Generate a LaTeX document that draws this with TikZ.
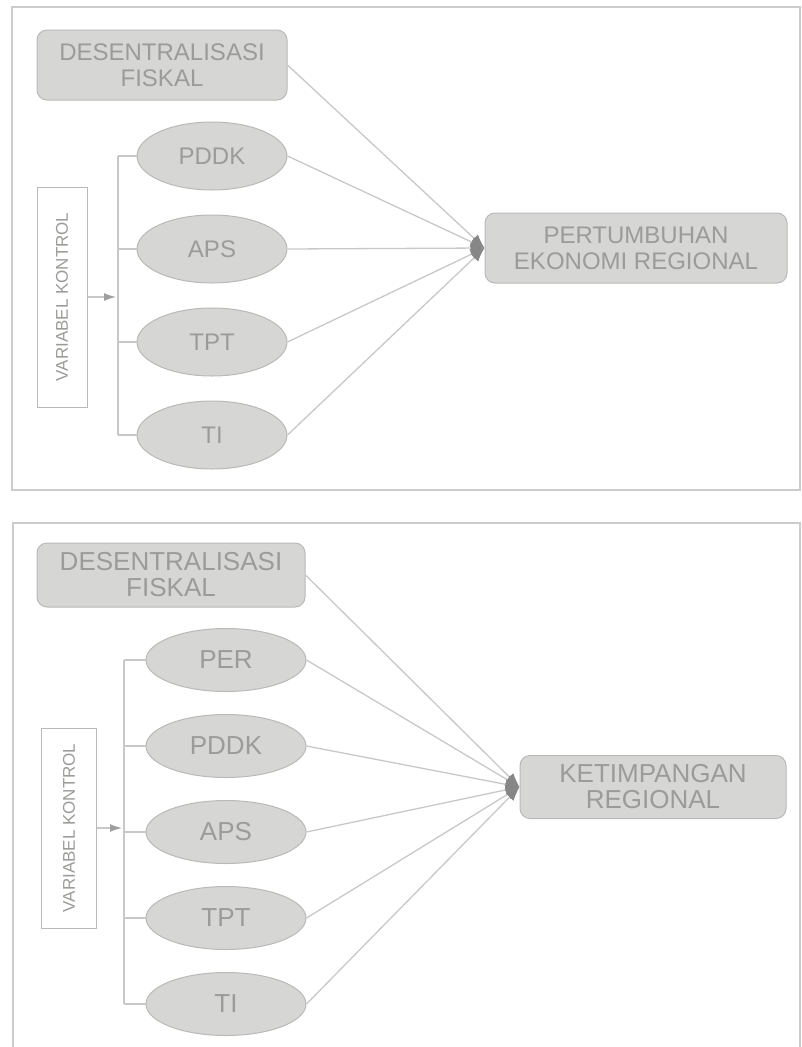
\documentclass[tikz,border=0pt]{standalone}
\usepackage{fontspec}
\setmainfont{Liberation Sans}
\usetikzlibrary{shapes.geometric,arrows.meta,positioning}
\definecolor{boxgray}{RGB}{214,214,212}
\definecolor{edgegray}{RGB}{185,185,183}
\definecolor{txtgray}{RGB}{155,155,153}
\definecolor{linegray}{RGB}{200,200,200}
\definecolor{tipgray}{RGB}{135,135,135}
\definecolor{framegray}{RGB}{204,204,202}
\newcommand{\topfont}{\fontsize{24}{26}\selectfont}
\newcommand{\botfont}{\fontsize{26}{26}\selectfont}
\newcommand{\ktrfont}{\fontsize{17}{18}\selectfont}

\begin{document}
\begin{tikzpicture}[
  x=1pt, y=-1pt,
  frame/.style={draw=framegray, line width=2pt},
  fiskal/.style={draw=edgegray, fill=boxgray, rounded corners=10pt,
    text=txtgray, align=center, inner sep=0pt, line width=1pt},
  varell/.style={ellipse, draw=edgegray, fill=boxgray, text=txtgray,
    inner sep=0pt, line width=1pt},
  kontrol/.style={draw=edgegray, fill=white, text=txtgray, inner sep=0pt,
    line width=1pt, font=\ktrfont},
  link/.style={draw=linegray, line width=1.3pt,
    -{Latex[length=14pt,width=11pt,color=tipgray]}},
  bus/.style={draw=linegray, line width=1.3pt},
  karrow/.style={draw=linegray, line width=1.3pt,
    -{Latex[length=12pt,width=8pt,color=tipgray!80]}},
  ]
  \useasboundingbox (0,0) rectangle (802,1047);

  % Top panel
  \draw[frame] (12,7) rectangle (800,490);
  \node[fiskal, font=\topfont, minimum width=250pt, minimum height=70pt]
    (fisk1) at (162,65) {DESENTRALISASI\\FISKAL};
  \node[fiskal, font=\topfont, minimum width=302pt, minimum height=70pt]
    (tgt1) at (636,248) {PERTUMBUHAN\\EKONOMI REGIONAL};
  \node[kontrol, minimum width=50pt, minimum height=220pt]
    (ktr1) at (62,297) {\rotatebox{90}{VARIABEL KONTROL}};
  \begin{scope}[every node/.style={varell, font=\topfont,
      minimum width=150pt, minimum height=68pt}, node distance=24pt]
    \node (pddk1) at (212,156) {PDDK};
    \node[below=of pddk1] (aps1) {APS};
    \node[below=of aps1] (tpt1) {TPT};
    \node[below=of tpt1] (ti1) {TI};
  \end{scope}
  % Control bracket
  \coordinate (bus1) at (118,0);
  \draw[bus] (pddk1.west -| bus1) -- (ti1.west -| bus1);
  \foreach \n in {pddk1,aps1,tpt1,ti1}
    \draw[bus] (\n.west) -- (\n.west -| bus1);
  \draw[karrow] (ktr1.east) -- ([xshift=-2pt]ktr1.east -| bus1);
  % Links to target
  \foreach \n in {fisk1,pddk1,aps1,tpt1,ti1}
    \draw[link] (\n.east) -- (tgt1.west);

  % Bottom panel
  \draw[frame] (13,1047) -- (13,523) -- (800,523) -- (800,1047);
  \node[fiskal, font=\botfont, minimum width=268pt, minimum height=64pt]
    (fisk2) at (171,575) {DESENTRALISASI\\FISKAL};
  \node[fiskal, font=\botfont, minimum width=266pt, minimum height=63pt]
    (tgt2) at (653,787) {KETIMPANGAN\\REGIONAL};
  \node[kontrol, minimum width=55pt, minimum height=200pt]
    (ktr2) at (69,828) {\rotatebox{90}{VARIABEL KONTROL}};
  \begin{scope}[every node/.style={varell, font=\botfont,
      minimum width=160pt, minimum height=63pt}, node distance=22pt]
    \node (per2) at (226,660) {PER};
    \node[below=of per2] (pddk2) {PDDK};
    \node[below=of pddk2] (aps2) {APS};
    \node[below=of aps2] (tpt2) {TPT};
    \node[below=of tpt2] (ti2) {TI};
  \end{scope}
  % Control bracket
  \coordinate (bus2) at (124,0);
  \draw[bus] (per2.west -| bus2) -- (ti2.west -| bus2);
  \foreach \n in {per2,pddk2,aps2,tpt2,ti2}
    \draw[bus] (\n.west) -- (\n.west -| bus2);
  \draw[karrow] (ktr2.east) -- ([xshift=-2pt]ktr2.east -| bus2);
  % Links to target
  \foreach \n in {fisk2,per2,pddk2,aps2,tpt2,ti2}
    \draw[link] (\n.east) -- (tgt2.west);
\end{tikzpicture}
\end{document}
